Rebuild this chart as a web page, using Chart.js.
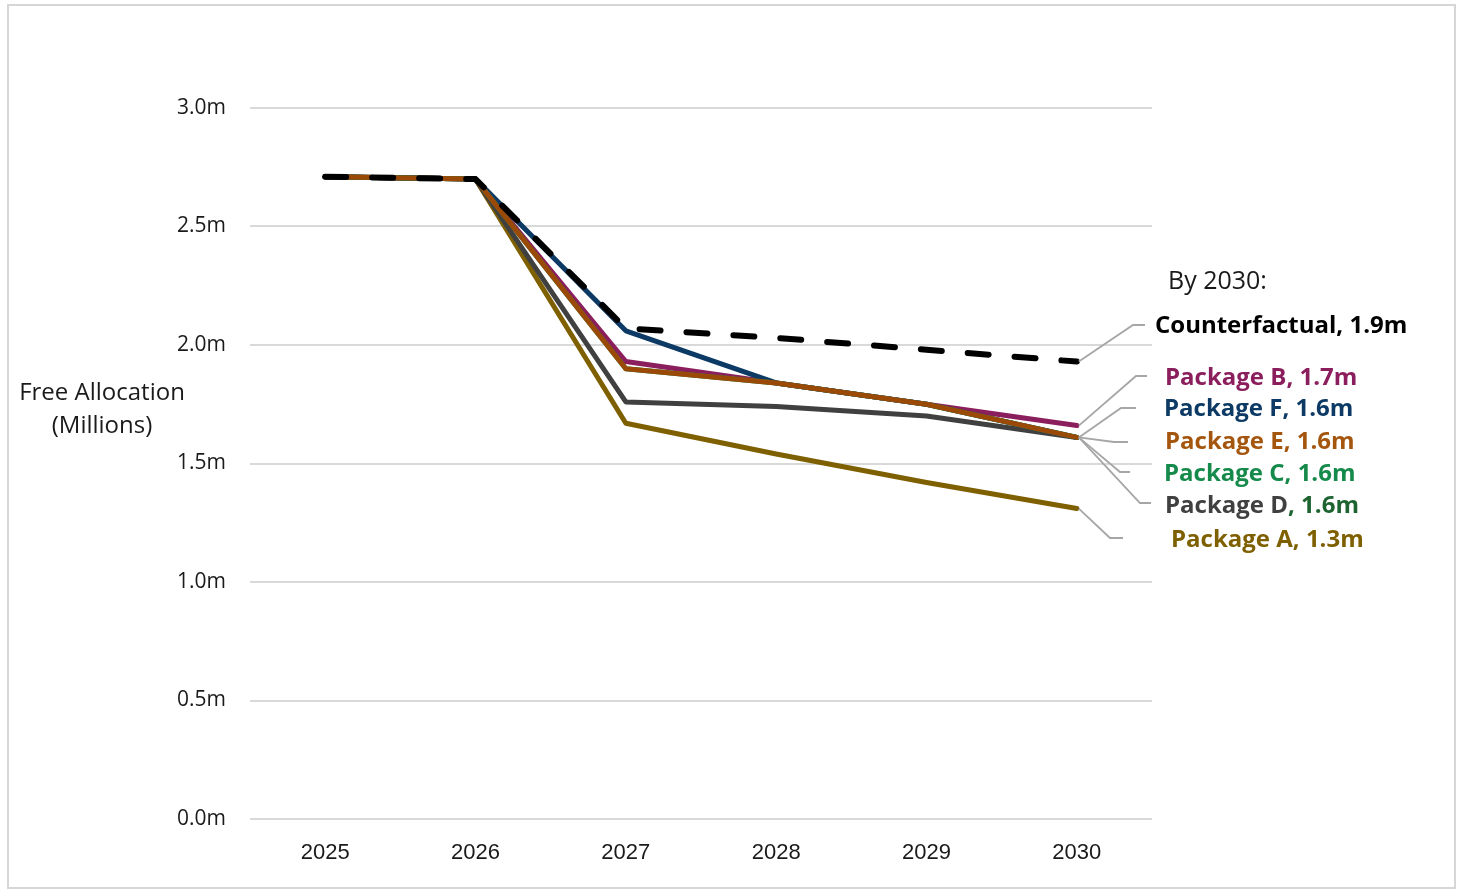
<!DOCTYPE html>
<html>
<head>
<meta charset="utf-8">
<script src="https://cdn.jsdelivr.net/npm/chart.js@4"></script>
<style>
  body { margin: 0; background: #fff; }
  #wrap { width: 1462px; height: 894px; }
</style>
</head>
<body>
<div id="wrap"><canvas id="lineChartAllocation" width="1462" height="894"></canvas></div>
<script>
// values (millions)
var years = ['2025', '2026', '2027', '2028', '2029', '2030']
var counterfactual = [2.71, 2.70, 2.07, 2.03, 1.98, 1.93]
var packageA = [2.71, 2.70, 1.67, 1.54, 1.42, 1.31]
var packageB = [2.71, 2.70, 1.93, 1.84, 1.75, 1.66]
var packageC = [2.71, 2.70, 1.90, 1.84, 1.75, 1.61]
var packageD = [2.71, 2.70, 1.76, 1.74, 1.70, 1.61]
var packageE = [2.71, 2.70, 1.90, 1.84, 1.75, 1.61]
var packageF = [2.71, 2.70, 2.06, 1.84, 1.75, 1.61]
var yTickLabels = ['0.0m', '0.5m', '1.0m', '1.5m', '2.0m', '2.5m', '3.0m']

var FONT = '"Open Sans", "Noto Sans", sans-serif'

function lineSet(label, data, color, order) {
    return {
        label: label,
        data: data,
        borderColor: color,
        backgroundColor: color,
        borderWidth: 5,
        pointRadius: 0,
        tension: 0,
        borderJoinStyle: 'round',
        borderCapStyle: 'round',
        order: order
    }
}

var cf = lineSet('Counterfactual', counterfactual, '#000000', 0)
cf.borderDash = [21, 26]
cf.borderWidth = 6
cf.borderCapStyle = 'round'

var lineData = {
    labels: years,
    datasets: [
        cf,
        lineSet('Package E', packageE, '#9A4A06', 1),
        lineSet('Package C', packageC, '#168A4A', 2),
        lineSet('Package F', packageF, '#0C3A64', 3),
        lineSet('Package B', packageB, '#8B1E5C', 4),
        lineSet('Package D', packageD, '#404040', 5),
        lineSet('Package A', packageA, '#7F6000', 6)
    ]
}

// labels at the right, with grey leader lines from the 2030 points
var endLabels = [
    { ds: 0, elbow: [1133, 325], end: [1145, 325], x: 1155, y: 326, parts: [['Counterfactual, 1.9m', '#000000']] },
    { ds: 4, elbow: [1136, 376], end: [1147, 376], x: 1165, y: 378, parts: [['Package B, 1.7m', '#8B1E5C']] },
    { ds: 3, elbow: [1121, 408], end: [1136, 408], x: 1164, y: 409, parts: [['Package F, 1.6m', '#0C3A64']] },
    { ds: 1, elbow: [1114, 442], end: [1128, 442], x: 1165, y: 442, parts: [['Package E, 1.6m', '#A5560E']] },
    { ds: 2, elbow: [1120, 472], end: [1130, 472], x: 1164, y: 474, parts: [['Package C, 1.6m', '#168A4A']] },
    { ds: 5, elbow: [1140, 503], end: [1151, 503], x: 1165, y: 506, parts: [['Package D', '#404040'], [', 1.6m', '#1E6430']] },
    { ds: 6, elbow: [1110, 538], end: [1123, 538], x: 1171, y: 540, parts: [['Package A, 1.3m', '#7F6000']] }
]

var annotatePlugin = {
    id: 'annotate',
    beforeDraw: function (chart) {
        var ctx = chart.ctx
        ctx.save()
        ctx.fillStyle = '#ffffff'
        ctx.fillRect(0, 0, chart.width, chart.height)
        ctx.strokeStyle = '#d6d6d6'
        ctx.lineWidth = 2
        ctx.strokeRect(8, 5, 1447, 883)
        // horizontal y axis title
        ctx.fillStyle = '#1a1a1a'
        ctx.font = '24px ' + FONT
        ctx.textAlign = 'center'
        ctx.textBaseline = 'middle'
        ctx.fillText('Free Allocation', 102, 393)
        ctx.fillText('(Millions)', 102, 426)
        ctx.restore()
    },
    afterDatasetsDraw: function (chart) {
        var ctx = chart.ctx
        ctx.save()
        ctx.strokeStyle = '#a6a6a6'
        ctx.lineWidth = 1.8
        endLabels.forEach(function (l) {
            var pts = chart.getDatasetMeta(l.ds).data
            var p = pts[pts.length - 1]
            ctx.beginPath()
            ctx.moveTo(p.x + 2, p.y)
            ctx.lineTo(l.elbow[0], l.elbow[1])
            ctx.lineTo(l.end[0], l.end[1])
            ctx.stroke()
        })
        ctx.textAlign = 'left'
        ctx.textBaseline = 'middle'
        ctx.font = '25px ' + FONT
        ctx.fillStyle = '#1a1a1a'
        ctx.fillText('By 2030:', 1168, 282)
        ctx.font = 'bold 24px ' + FONT
        endLabels.forEach(function (l) {
            var x = l.x
            l.parts.forEach(function (part) {
                ctx.fillStyle = part[1]
                ctx.fillText(part[0], x, l.y)
                x += ctx.measureText(part[0]).width
            })
        })
        ctx.restore()
    }
}

function loadAllocationLineChart(data) {
    var lineChartCanvas = document.getElementById('lineChartAllocation').getContext('2d')
    var lineOptions = {
        responsive: false,
        maintainAspectRatio: false,
        devicePixelRatio: 1,
        animation: false,
        layout: { padding: { top: 108, right: 310, left: 0, bottom: 0 } },
        plugins: { legend: { display: false }, tooltip: { enabled: false } },
        scales: {
            x: {
                offset: true,
                grid: { display: false },
                border: { display: false },
                ticks: { color: '#1a1a1a', font: { family: '"Liberation Sans", Arial, sans-serif', size: 22 }, padding: 13 },
                afterFit: function (scale) { scale.height = 75 }
            },
            y: {
                min: 0,
                max: 3,
                grid: { color: '#d9d9d9', lineWidth: 2, drawTicks: false },
                border: { display: false },
                ticks: {
                    stepSize: 0.5,
                    padding: 24,
                    color: '#1a1a1a',
                    font: { family: FONT, size: 21 },
                    callback: function (value, index) { return yTickLabels[index] }
                },
                afterFit: function (scale) { scale.width = 250 }
            }
        }
    }
    new Chart(lineChartCanvas, {
        type: 'line',
        data: data,
        options: lineOptions,
        plugins: [annotatePlugin]
    })
}

loadAllocationLineChart(lineData)
</script>
</body>
</html>
